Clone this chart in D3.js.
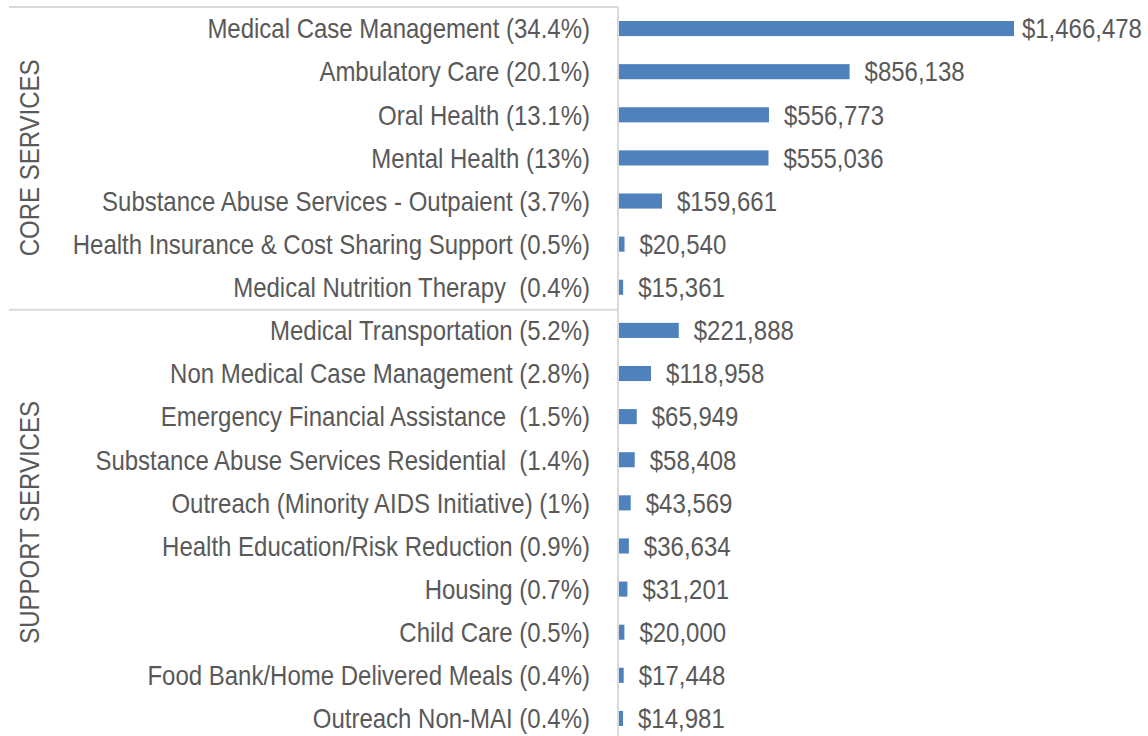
<!DOCTYPE html>
<html><head><meta charset="utf-8">
<script src="https://cdn.jsdelivr.net/npm/d3@7"></script>
<style>
html,body{margin:0;padding:0;background:#fff;overflow:hidden;}
svg text{font-family:"Liberation Sans Narrow","Arial Narrow","Liberation Sans",Arial,sans-serif;fill:#595959;font-size:28px;}
</style></head>
<body><svg id="c" width="1148" height="736"></svg>
<script>
const categories = [
 "Medical Case Management (34.4%)",
 "Ambulatory Care (20.1%)",
 "Oral Health (13.1%)",
 "Mental Health (13%)",
 "Substance Abuse Services - Outpaient (3.7%)",
 "Health Insurance & Cost Sharing Support (0.5%)",
 "Medical Nutrition Therapy  (0.4%)",
 "Medical Transportation (5.2%)",
 "Non Medical Case Management (2.8%)",
 "Emergency Financial Assistance  (1.5%)",
 "Substance Abuse Services Residential  (1.4%)",
 "Outreach (Minority AIDS Initiative) (1%)",
 "Health Education/Risk Reduction (0.9%)",
 "Housing (0.7%)",
 "Child Care (0.5%)",
 "Food Bank/Home Delivered Meals (0.4%)",
 "Outreach Non-MAI (0.4%)"
];
const values = [1466478, 856138, 556773, 555036, 159661, 20540, 15361,
 221888, 118958, 65949, 58408, 43569, 36634, 31201, 20000, 17448, 14981];
const groups = ["CORE SERVICES", "SUPPORT SERVICES"];
const groupSizes = [7, 10];

const svg = d3.select("#c");
const axisX = 618, plotTop = 7, plotBottom = 740, plotLeft = 9;
const sx = 0.857; // horizontal condensation to mimic a narrow face
const y = d3.scaleBand().domain(d3.range(categories.length)).range([plotTop, plotBottom]).paddingInner(0.65).paddingOuter(0.325);
const yRow = d3.scaleBand().domain(d3.range(categories.length)).range([plotTop, plotBottom]);
const x = d3.scaleLinear().domain([0, 1466478]).range([axisX + 1, 1014]);
const fmt = d3.format("$,");

svg.append("line").attr("x1", plotLeft).attr("x2", axisX).attr("y1", plotTop).attr("y2", plotTop)
  .attr("stroke", "#d9d9d9").attr("stroke-width", 2);
let acc = 0;
groupSizes.forEach((n, gi) => {
  const y0 = yRow(acc), y1 = acc + n < categories.length ? yRow(acc + n) : 736;
  if (gi > 0) svg.append("line").attr("x1", plotLeft).attr("x2", axisX).attr("y1", y0 + 1).attr("y2", y0 + 1)
    .attr("stroke", "#d9d9d9").attr("stroke-width", 2);
  const cy = (y0 + y1) / 2;
  svg.append("text").attr("transform", `translate(39,${cy}) rotate(-90) scale(${sx},1)`)
    .attr("text-anchor", "middle").text(groups[gi]);
  acc += n;
});
svg.append("line").attr("x1", axisX).attr("x2", axisX).attr("y1", plotTop).attr("y2", plotBottom)
  .attr("stroke", "#d9d9d9").attr("stroke-width", 2);

svg.selectAll("rect.bar").data(values).join("rect").attr("class", "bar")
  .attr("x", x(0)).attr("y", (d, i) => y(i)).attr("height", y.bandwidth())
  .attr("width", d => Math.max(1, x(d) - x(0))).attr("fill", "#4f81bd");

svg.selectAll("text.cat").data(categories).join("text").attr("class", "cat")
  .attr("transform", (d, i) => `translate(590,${yRow(i) + yRow.bandwidth() / 2}) scale(${sx},1)`)
  .attr("dy", "0.35em").attr("text-anchor", "end")
  .style("white-space", "pre").text(d => d);

svg.selectAll("text.val").data(values).join("text").attr("class", "val")
  .attr("dy", "0.35em").text(d => fmt(d))
  .attr("transform", function(d, i) {
    const w = this.getComputedTextLength() * sx;
    const tx = Math.min(x(d) + 15, 1142 - w);
    return `translate(${tx},${yRow(i) + yRow.bandwidth() / 2}) scale(${sx},1)`;
  });
</script></body></html>
